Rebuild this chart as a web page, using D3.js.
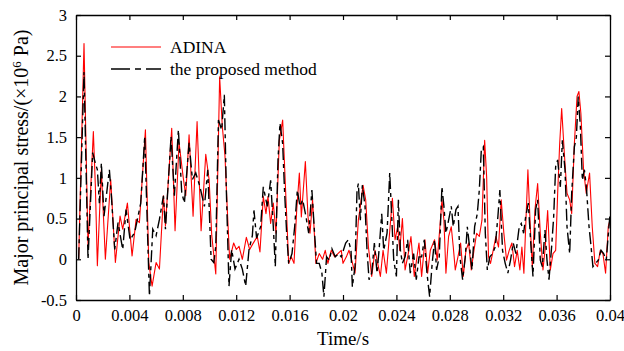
<!DOCTYPE html>
<html>
<head>
<meta charset="utf-8">
<script src="https://cdn.jsdelivr.net/npm/d3@7"></script>
<style>
  body { margin: 0; background: #fff; }
  svg { display: block; font-family: "Liberation Serif", "Times New Roman", serif; }
</style>
</head>
<body>
<svg id="chart"></svg>
<script>
// Time in ms, stress in 10^6 Pa
const adinaTimeMs = [0.2,0.6,0.9,1.3,1.45,1.6,1.9,2.2,2.6,2.95,3.3,3.5,3.85,4.2,4.5,4.75,5.2,5.45,5.7,6.0,6.25,6.55,6.7,
  7.17,7.42,7.72,8.02,8.22,8.47,8.77,9.07,9.37,9.72,9.97,10.17,10.47,10.76,10.96,11.16,11.31,11.51,11.81,12.01,12.21,12.46,12.76,13.01,13.21,
  13.58,13.78,14.03,14.23,14.38,14.58,14.78,14.98,15.23,15.48,15.73,15.93,16.13,16.33,16.53,16.73,16.88,17.18,17.38,17.53,17.72,17.97,18.22,18.47,18.67,18.87,19.12,19.37,19.62,19.87,
  20.0,20.25,20.45,20.65,20.9,21.15,21.3,21.5,21.7,21.9,22.15,22.4,22.6,22.8,23.0,23.25,23.45,23.7,23.9,24.1,24.25,24.45,24.65,24.89,25.09,25.34,25.54,25.69,25.89,26.14,26.34,26.54,
  26.86,27.06,27.26,27.41,27.56,27.71,27.91,28.11,28.26,28.41,28.61,28.81,29.01,29.21,29.41,29.61,29.81,30.01,30.21,30.41,30.61,30.76,30.9,31.05,31.25,31.45,31.65,31.85,32.05,32.25,32.45,32.65,32.85,33.05,33.25,
  33.4,33.55,33.85,34.03,34.18,34.38,34.58,34.78,34.98,35.13,35.33,35.53,35.73,35.93,36.08,36.23,36.38,36.58,36.78,36.98,37.13,37.33,37.53,37.67,37.82,38.02,38.22,38.47,38.67,38.87,39.07,39.27,39.47,39.67,39.87,40.0];
const adinaStress = [0,2.65,0.16,1.57,0.9,-0.08,1.1,0,0.98,-0.04,0.53,0.37,0.69,0.04,0.49,0.45,1.59,-0.04,-0.33,-0.04,-0.12,0.78,0.41,
  1.61,0.35,1.43,1.02,0.78,1.53,0.53,1.69,0.35,1.29,0.98,0.29,-0.18,2.24,1.63,1.27,0.69,0,0.2,0.12,0.16,0,0.27,0.12,0.18,
  0.28,0.09,0.77,0.56,0.77,0.44,0.69,0.32,1.46,1.71,0.73,-0.05,0.03,-0.05,0.6,1.06,0.52,1.2,0.52,0.32,0.73,-0.05,0.07,0,0.11,-0.05,0.11,0.03,0.07,0.11,
  -0.05,0.03,0.11,-0.01,-0.17,0.48,0.65,0.91,0.73,0.16,-0.21,0.11,-0.05,-0.21,0.11,-0.17,0.24,0.75,0.24,0.4,0.11,0.5,-0.13,0.07,0.28,-0.21,0.03,0.2,-0.21,0.24,-0.17,0.11,
  0.24,-0.01,0.4,0.73,0.48,-0.17,0.28,0.4,0.15,-0.13,0.03,0.2,-0.21,0.11,0.2,-0.13,0.11,0.32,0.28,0.48,1.46,1.01,0.03,-0.05,0.11,0.28,0.15,0.73,0.32,-0.01,0.11,0.2,-0.09,0.11,-0.13,
  0.15,-0.17,1.1,0.4,-0.09,0.61,0.93,0.32,-0.13,0.11,0.6,-0.13,0.07,0.11,0.81,1.42,1.85,1.3,0.81,0.73,0.56,1.42,2.0,2.06,1.79,1.1,0.81,1.06,0.4,-0.05,-0.09,0.11,0.07,-0.17,0.4,0.48];

const proposedTimeMs = [0.2,0.6,0.9,1.25,1.45,1.6,1.75,1.9,2.1,2.5,2.65,2.9,3.15,3.5,3.75,4.05,4.4,4.85,5.15,5.35,5.5,5.75,6.0,6.25,6.55,6.7,
  7.12,7.37,7.67,7.92,8.12,8.47,8.72,8.97,9.27,9.62,9.87,10.12,10.32,10.47,10.67,10.91,11.11,11.26,11.46,11.66,11.91,12.21,12.46,12.71,12.96,13.21,
  13.33,13.53,13.83,14.03,14.33,14.58,14.78,14.93,15.13,15.28,15.48,15.63,15.78,15.93,16.18,16.38,16.58,16.78,16.98,17.23,17.43,17.67,17.87,18.02,18.22,18.42,18.57,18.77,18.97,19.17,19.42,19.67,19.87,
  20.2,20.4,20.6,20.7,20.9,21.05,21.15,21.3,21.45,21.65,21.8,21.95,22.15,22.35,22.55,22.7,22.9,23.05,23.3,23.5,23.65,23.8,24.0,24.15,24.3,24.45,24.65,24.84,25.04,25.29,25.49,25.69,25.89,26.09,26.29,26.49,26.68,
  26.86,27.01,27.21,27.41,27.56,27.71,27.91,28.11,28.26,28.46,28.61,28.76,28.96,29.16,29.31,29.51,29.66,29.86,30.06,30.21,30.36,30.51,30.66,30.81,31.0,31.2,31.4,31.6,31.75,31.95,32.15,32.35,32.55,32.75,32.95,33.2,
  33.35,33.53,33.68,33.88,34.08,34.23,34.43,34.58,34.78,34.93,35.13,35.28,35.43,35.63,35.78,35.93,36.08,36.28,36.43,36.63,36.78,36.98,37.13,37.33,37.48,37.62,37.78,37.93,38.08,38.23,38.43,38.58,38.72,38.92,39.12,39.33,39.52,39.72,39.92,40.0];
const proposedStress = [0,2.3,0,1.31,1.18,1.1,0.69,1.18,0.53,1.1,0.78,0.12,0.45,0.12,0.61,0.24,0.33,0.69,1.51,0.37,-0.45,0.37,0.29,0.49,0.78,0.37,
  1.51,0.78,1.59,0.82,0.69,1.43,0.98,1.06,0.9,0.65,1.1,0,-0.04,0.16,1.71,1.59,2.02,0.86,-0.33,0.12,-0.12,0,-0.12,-0.33,0.12,0.29,
  0.6,0.26,0.4,0.89,0.65,0.97,0.4,-0.09,1.22,1.67,1.42,0.81,0.32,-0.05,0.07,0.4,0.85,0.65,0.73,0.52,0.32,0.85,0.32,-0.05,-0.05,-0.17,-0.46,0.03,-0.01,0.13,0.03,0.07,0.03,
  0.2,0.24,0.11,-0.34,-0.09,0.85,0.93,0.48,0.91,0.65,0.11,-0.25,-0.17,0.2,-0.17,0.11,0.56,0.11,0.32,1.06,0.52,-0.01,-0.21,0.73,0.11,-0.05,0.03,0.24,-0.17,0.07,-0.25,0.03,0.03,0.24,-0.17,-0.46,-0.05,
  0.24,-0.13,0.03,0.89,0.65,0.32,0.48,0.65,0.4,0.61,0.65,0.03,-0.25,0.03,0.4,0.11,-0.13,0.4,0.56,0.85,1.34,1.38,0.32,-0.13,0.03,0.07,0.15,0.52,0.85,0.11,-0.05,-0.17,-0.01,0.2,0.07,0.4,
  0.44,0.32,0.52,0.69,0.16,-0.21,0.61,0.73,-0.01,-0.09,0.36,-0.01,-0.25,0.16,0.52,1.14,1.22,0.89,1.46,1.1,0.4,0.07,0.81,1.38,1.5,2.0,1.63,0.97,1.1,0.89,0.4,0.16,-0.09,-0.05,-0.01,0.11,0.07,-0.01,0.4,0.55];

const xTicks = [0, 0.004, 0.008, 0.012, 0.016, 0.02, 0.024, 0.028, 0.032, 0.036, 0.04];
const xTickLabels = ["0", "0.004", "0.008", "0.012", "0.016", "0.02", "0.024", "0.028", "0.032", "0.036", "0.04"];
const yTicks = [-0.5, 0, 0.5, 1, 1.5, 2, 2.5, 3];
const yTickLabels = ["-0.5", "0", "0.5", "1", "1.5", "2", "2.5", "3"];
const seriesNames = ["ADINA", "the proposed method"];

const width = 624, height = 351;
const margin = {left: 76, right: 14, top: 15, bottom: 51};

const svg = d3.select("#chart").attr("width", width).attr("height", height);

const x = d3.scaleLinear().domain([0, 0.04]).range([margin.left, width - margin.right]);
const y = d3.scaleLinear().domain([-0.5, 3]).range([height - margin.bottom, margin.top]);

svg.append("defs").append("clipPath").attr("id", "plot-clip")
  .append("rect")
  .attr("x", margin.left).attr("y", margin.top)
  .attr("width", width - margin.left - margin.right)
  .attr("height", height - margin.top - margin.bottom);

const adina = adinaTimeMs.map((t, i) => ({t: t / 1000, v: adinaStress[i]}));
const proposed = proposedTimeMs.map((t, i) => ({t: t / 1000, v: proposedStress[i]}));

const line = d3.line().x(d => x(d.t)).y(d => y(d.v));

const plot = svg.append("g").attr("clip-path", "url(#plot-clip)");

plot.append("path")
  .datum(adina)
  .attr("fill", "none")
  .attr("stroke", "#ff0000")
  .attr("stroke-width", 1.1)
  .attr("stroke-linejoin", "round")
  .attr("d", line);

plot.append("path")
  .datum(proposed)
  .attr("fill", "none")
  .attr("stroke", "#000")
  .attr("stroke-width", 1.4)
  .attr("stroke-dasharray", "12,4,4,4")
  .attr("d", line);

// Axes with inward ticks on all four sides
const fmtX = d => xTickLabels[xTicks.indexOf(d)];
const fmtY = d => yTickLabels[yTicks.indexOf(d)];

svg.append("g")
  .attr("transform", `translate(0,${height - margin.bottom})`)
  .call(d3.axisBottom(x).tickValues(xTicks).tickFormat(fmtX).tickSizeInner(-5).tickSizeOuter(0).tickPadding(9));

svg.append("g")
  .attr("transform", `translate(0,${margin.top})`)
  .call(d3.axisTop(x).tickValues(xTicks).tickFormat("").tickSizeInner(-5).tickSizeOuter(0));

svg.append("g")
  .attr("transform", `translate(${margin.left},0)`)
  .call(d3.axisLeft(y).tickValues(yTicks).tickFormat(fmtY).tickSizeInner(-5).tickSizeOuter(0).tickPadding(9));

svg.append("g")
  .attr("transform", `translate(${width - margin.right},0)`)
  .call(d3.axisRight(y).tickValues(yTicks).tickFormat("").tickSizeInner(-5).tickSizeOuter(0));

svg.selectAll(".domain").attr("stroke", "#000").attr("stroke-width", 1.3);
svg.selectAll(".tick line").attr("stroke", "#000").attr("stroke-width", 1.2);
svg.selectAll(".tick text")
  .attr("font-family", "Liberation Serif, serif")
  .attr("font-size", 16.5)
  .attr("fill", "#000");

// Axis titles
svg.append("text")
  .attr("x", (margin.left + width - margin.right) / 2)
  .attr("y", 345)
  .attr("text-anchor", "middle")
  .attr("font-size", 19)
  .text("Time/s");

const yLabel = svg.append("text")
  .attr("transform", `translate(28,${(margin.top + height - margin.bottom) / 2}) rotate(-90)`)
  .attr("text-anchor", "middle")
  .attr("font-size", 20);
yLabel.append("tspan").text("Major principal stress/(×10");
yLabel.append("tspan").attr("baseline-shift", "super").attr("font-size", 13).text("6");
yLabel.append("tspan").text(" Pa)");

// Legend
const legend = svg.append("g");
const legendY = [47, 69];
const legendStyles = [
  {stroke: "#ff0000", width: 1.1, dash: null},
  {stroke: "#000", width: 1.4, dash: "19,5,6,5"}
];
seriesNames.forEach((name, i) => {
  legend.append("line")
    .attr("x1", 111).attr("x2", 161)
    .attr("y1", legendY[i]).attr("y2", legendY[i])
    .attr("stroke", legendStyles[i].stroke)
    .attr("stroke-width", legendStyles[i].width)
    .attr("stroke-dasharray", legendStyles[i].dash);
  legend.append("text")
    .attr("x", 170).attr("y", legendY[i] + 6)
    .attr("font-size", 17.5)
    .text(name);
});
</script>
</body>
</html>
